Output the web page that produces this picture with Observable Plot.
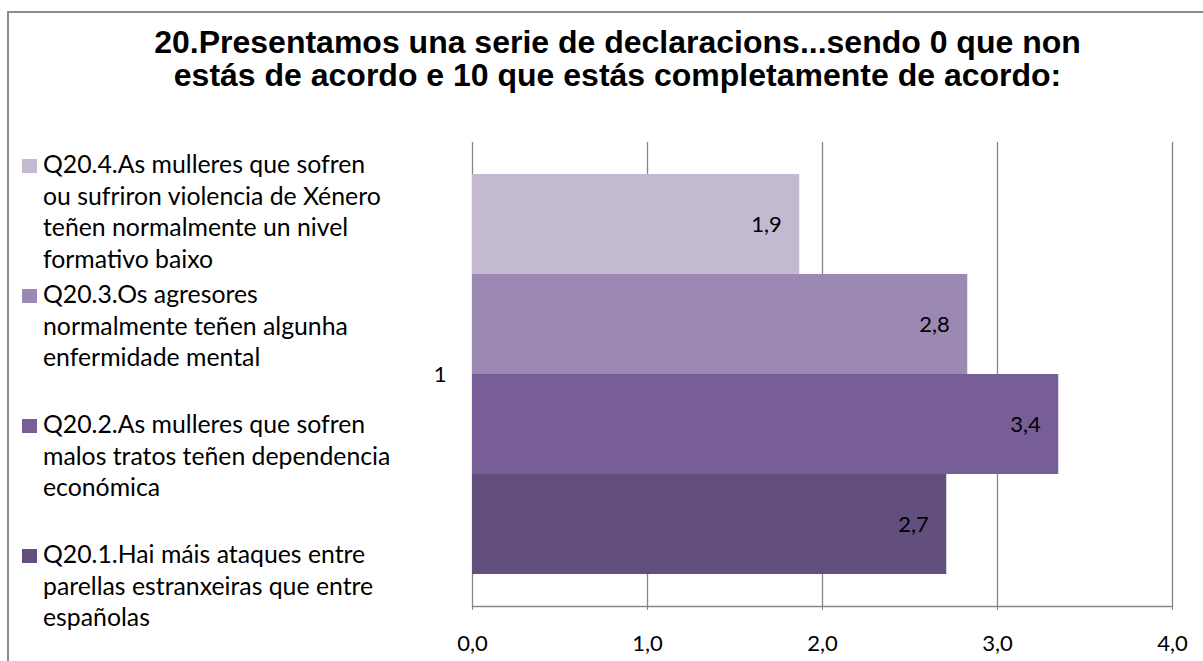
<!DOCTYPE html>
<html>
<head>
<meta charset="utf-8">
<script src="https://cdn.jsdelivr.net/npm/d3@7"></script>
<script src="https://cdn.jsdelivr.net/npm/@observablehq/plot@0.6"></script>
<style>
  html, body { margin: 0; padding: 0; background: #fff; overflow: hidden; }
  #wrap { position: relative; width: 1203px; height: 661px; overflow: hidden; }
  #border { position: absolute; left: 7px; top: 11px; width: 1300px; height: 800px; border: 2px solid #8c8c8c; box-sizing: border-box; }
  #title { position: absolute; left: 20px; width: 1195px; top: 26px; text-align: center;
           font-family: "Liberation Sans", Arial, sans-serif; font-weight: bold; font-size: 32px; line-height: 33px; color: #000; }
  #legend { position: absolute; left: 22px; top: 148px; font-family: Lato, sans-serif; font-size: 24.8px; color: #000; }
  .entry { position: relative; height: 130px; }
  .sw { position: absolute; left: 0; top: 11px; width: 15px; height: 14px; }
  .lab { position: absolute; left: 21px; top: 0; line-height: 31.7px; white-space: pre; }
  #chart { position: absolute; left: 0; top: 0; }
</style>
</head>
<body>
<div id="wrap">
  <div id="border"></div>
  <div id="chart"></div>
  <div id="title"></div>
  <div id="legend"></div>
</div>
<script>
const titleLines = [
  "20.Presentamos una serie de declaracions...sendo 0 que non",
  "estás de acordo e 10 que estás completamente de acordo:"
];
const category = ["1"];
const series = ["Q20.1", "Q20.2", "Q20.3", "Q20.4"];
const seriesLabels = [
  "Q20.1.Hai máis ataques entre\nparellas estranxeiras que entre\nespañolas",
  "Q20.2.As mulleres que sofren\nmalos tratos teñen dependencia\neconómica",
  "Q20.3.Os agresores\nnormalmente teñen algunha\nenfermidade mental",
  "Q20.4.As mulleres que sofren\nou sufriron violencia de Xénero\nteñen normalmente un nivel\nformativo baixo"
];
const values = [2.71, 3.35, 2.83, 1.87];
const colors = ["#634f7e", "#775e96", "#9b89b3", "#c3b9d1"];
const xTicks = [0, 1, 2, 3, 4];

const data = series.map((s, i) => ({cat: category[0], series: s, value: values[i]}));
const fmt = d => d.toFixed(1).replace(".", ",");

document.getElementById("title").innerHTML = titleLines.join("<br>");

const legend = document.getElementById("legend");
const order = series.slice().reverse();
order.forEach(s => {
  const i = series.indexOf(s);
  const e = document.createElement("div");
  e.className = "entry";
  const sw = document.createElement("div");
  sw.className = "sw";
  sw.style.background = colors[i];
  const lab = document.createElement("div");
  lab.className = "lab";
  lab.textContent = seriesLabels[i];
  e.appendChild(sw); e.appendChild(lab);
  legend.appendChild(e);
});

const plot = Plot.plot({
  width: 1203,
  height: 661,
  marginLeft: 472,
  marginRight: 31,
  marginTop: 142,
  marginBottom: 55,
  style: {fontFamily: "Lato, sans-serif", fontSize: "22px", color: "#000", background: "transparent"},
  x: {domain: [0, 4], label: null},
  y: {domain: order, axis: null, paddingInner: 0, paddingOuter: 0.32},
  fy: {domain: category, padding: 0, label: null},
  color: {domain: series, range: colors},
  marks: [
    Plot.ruleX(xTicks, {stroke: "#868686", strokeWidth: 1.3}),
    Plot.barX(data, {x: "value", y: "series", fy: "cat", fill: "series", inset: 0}),
    Plot.text(data, {x: "value", y: "series", fy: "cat", text: d => fmt(d.value), textAnchor: "end", dx: -18, fontSize: 22, fill: "#000"}),
    Plot.frame({anchor: "bottom", stroke: "#868686", strokeWidth: 1.3}),
    Plot.axisX({ticks: xTicks, tickFormat: fmt, tickSize: 4, tickPadding: 25, stroke: "#868686", fill: "#000", fontSize: 22, label: null}),
    Plot.axisFy({anchor: "left", tickSize: 0, tickPadding: 26, fontSize: 22, fill: "#000", label: null})
  ]
});
document.getElementById("chart").appendChild(plot);
</script>
</body>
</html>
